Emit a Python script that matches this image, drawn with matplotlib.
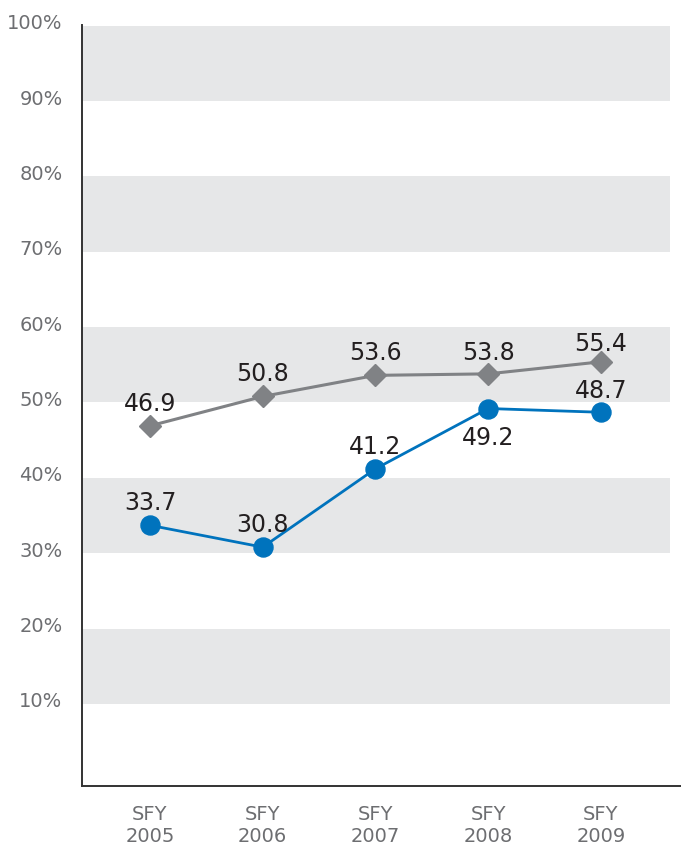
import matplotlib
matplotlib.use("Agg")
import matplotlib.pyplot as plt
import matplotlib.transforms as mtransforms

plt.rcParams['font.family'] = ['DejaVu Sans']

categories = ["SFY\n2005", "SFY\n2006", "SFY\n2007", "SFY\n2008", "SFY\n2009"]
gray_values = [46.9, 50.8, 53.6, 53.8, 55.4]
blue_values = [33.7, 30.8, 41.2, 49.2, 48.7]
gray_label_offsets = [16, 16, 16, 15, 13]
blue_label_offsets = [16, 16, 16, -21, 15]
y_ticks = [10, 20, 30, 40, 50, 60, 70, 80, 90, 100]
y_tick_labels = ["10%", "20%", "30%", "40%", "50%", "60%", "70%", "80%", "90%", "100%"]

W, H = 681, 846
fig = plt.figure(figsize=(W / 100, H / 100), dpi=100)
ax = fig.add_axes([82 / W, 60 / H, (681 - 82) / W, (786 - 25) / H])

x = list(range(len(categories)))
ax.set_xlim(-0.603, 4.71)
ax.set_ylim(-0.9, 100.1)

band_right = (670 - 82) / (681 - 82)
for lo in (10, 30, 50, 70, 90):
    ax.axhspan(lo, lo + 10, xmin=0, xmax=band_right, color="#E6E7E8", lw=0, zorder=0)

gray = "#808285"
blue = "#0073BD"
ax.plot(x, gray_values, color=gray, lw=2.2, marker="D", ms=11.7, mec=gray, mfc=gray, zorder=3)
ax.plot(x, blue_values, color=blue, lw=2.0, marker="o", ms=13.7, mec=blue, mfc=blue, zorder=3)

for xi, v, off in zip(x, gray_values, gray_label_offsets):
    ax.annotate(f"{v:.1f}", (xi, v), xytext=(0, off), textcoords="offset points",
                ha="center", va="center", fontsize=17, color="#231F20", zorder=4)
for xi, v, off in zip(x, blue_values, blue_label_offsets):
    ax.annotate(f"{v:.1f}", (xi, v), xytext=(0, off), textcoords="offset points",
                ha="center", va="center", fontsize=17, color="#231F20", zorder=4)

ax.set_yticks(y_ticks)
ax.set_yticklabels(y_tick_labels)
ax.set_xticks(x)
ax.set_xticklabels(categories, linespacing=1.2)
ax.tick_params(axis="y", length=0, pad=14, labelsize=14, labelcolor="#6D6E71")
ax.tick_params(axis="x", length=0, pad=14, labelsize=14, labelcolor="#6D6E71")
shift = mtransforms.ScaledTranslation(0, 4 / 100, fig.dpi_scale_trans)
for lbl in ax.get_yticklabels():
    lbl.set_transform(lbl.get_transform() + shift)

for s in ("top", "right"):
    ax.spines[s].set_visible(False)
for s in ("left", "bottom"):
    ax.spines[s].set_color("#333333")
    ax.spines[s].set_linewidth(1.4)

fig.savefig("out.png", dpi=100)
